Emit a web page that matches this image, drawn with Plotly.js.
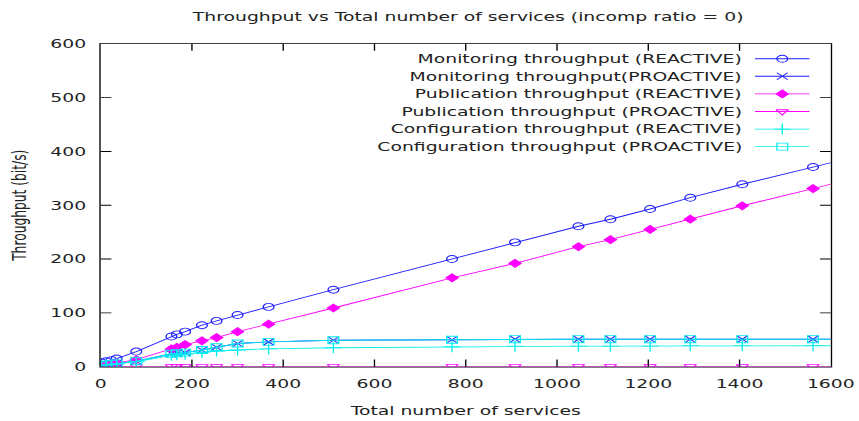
<!DOCTYPE html>
<html>
<head>
<meta charset="utf-8">
<script src="https://cdn.plot.ly/plotly-3.0.1.min.js"></script>
<style>
  html, body { margin: 0; padding: 0; background: #fff; overflow: hidden; }
  #wrap { width: 859px; height: 421px; overflow: hidden; position: relative; }
  #plot { width: 640px; height: 480px; transform: scale(1.3422, 0.8771); transform-origin: 0 0; }
</style>
</head>
<body>
<div id="wrap"><div id="plot"></div></div>
<script>
// ---- data ----
const services = [1, 12, 24, 35, 78, 155, 167, 185, 222, 254, 300, 368, 510, 770, 908, 1047, 1117, 1204, 1292, 1406, 1561, 1700];
const monitoringReactive  = [8, 10, 12, 15, 28, 56, 60, 65, 77, 85, 96, 111, 143, 200, 231, 261, 274, 293, 314, 339, 371, 400];
const monitoringProactive = [2, 4, 5, 6, 10, 24, 25, 26, 31, 36, 43, 46, 49, 50, 51, 51, 51, 51, 51, 51, 51, 51];
const publicationReactive = [2, 4, 5, 7, 13, 33, 36, 41, 48, 54, 65, 79, 109, 165, 192, 223, 236, 255, 274, 299, 331, 360];
const publicationProactive = [0.5, 0.5, 0.5, 0.5, 0.5, 0.5, 0.5, 0.5, 0.5, 0.5, 0.5, 0.5, 0.5, 0.5, 0.5, 0.5, 0.5, 0.5, 0.5, 0.5, 0.5, 0.5];
const configReactive  = [1, 3, 4, 5, 9, 21, 22, 23, 27, 29, 31, 33, 35, 37, 38, 38, 38, 38, 39, 39, 39, 39];
const configProactive = [2, 4, 5, 6, 10, 24, 25, 26, 31, 36, 43, 46, 49, 50, 51, 51, 51, 51, 51, 51, 51, 51];
const seriesNames = [
  "Monitoring throughput (REACTIVE)",
  "Monitoring throughput(PROACTIVE)",
  "Publication throughput (REACTIVE)",
  "Publication throughput (PROACTIVE)",
  "Configuration throughput (REACTIVE)",
  "Configuration throughput (PROACTIVE)"
];
const xTicks = [0, 200, 400, 600, 800, 1000, 1200, 1400, 1600];
const yTicks = [0, 100, 200, 300, 400, 500, 600];

// ---- styles ----
const seriesValues = [monitoringReactive, monitoringProactive, publicationReactive, publicationProactive, configReactive, configProactive];
const styles = [
  {color: '#1f1fff', symbol: 'circle-open', size: 8},
  {color: '#1f1fff', symbol: 'x-thin-open', size: 8},
  {color: '#ff00ff', symbol: 'diamond', size: 7},
  {color: '#ff00ff', symbol: 'triangle-down-open', size: 8},
  {color: '#00eeee', symbol: 'cross-thin-open', size: 9},
  {color: '#00eeee', symbol: 'square-open', size: 8}
];
const FONT = {family: 'DejaVu Sans', size: 14, color: '#222'};

const traces = [];
seriesValues.forEach((vals, i) => {
  const s = styles[i];
  traces.push({
    x: services, y: vals, name: seriesNames[i], type: 'scatter', mode: 'lines+markers',
    line: {color: s.color, width: 1},
    marker: {symbol: s.symbol, size: s.size, color: s.color, line: {color: s.color, width: 1}},
    xaxis: 'x', yaxis: 'y', showlegend: false, hoverinfo: 'skip'
  });
});

// custom legend (symbol to the right of right-aligned text, gnuplot style)
const legTop = 0.954, legStep = 0.0545, legTextX = 0.882;
const annotations = [];
seriesNames.forEach((name, i) => {
  const s = styles[i];
  const yy = legTop - i * legStep;
  traces.push({
    x: [0, 1], y: [yy, yy], type: 'scatter', mode: 'lines',
    line: {color: s.color, width: 1}, xaxis: 'x2', yaxis: 'y2', showlegend: false, hoverinfo: 'skip'
  });
  traces.push({
    x: [0.5], y: [yy], type: 'scatter', mode: 'markers',
    marker: {symbol: s.symbol, size: s.size, color: s.color, line: {color: s.color, width: 1}},
    xaxis: 'x2', yaxis: 'y2', showlegend: false, hoverinfo: 'skip', cliponaxis: false
  });
  annotations.push({
    text: name, xref: 'paper', yref: 'paper', x: legTextX, y: yy,
    xanchor: 'right', yanchor: 'middle', showarrow: false, font: FONT
  });
});

const axisCommon = {
  showgrid: false, zeroline: false, showline: true, linecolor: '#000', linewidth: 1,
  mirror: 'ticks', ticks: 'inside', ticklen: 8, tickcolor: '#000', tickwidth: 1,
  tickfont: FONT
};

const layout = {
  width: 640, height: 480,
  margin: {l: 75.3, r: 20.8, t: 50.2, b: 61.5},
  paper_bgcolor: '#fff', plot_bgcolor: 'rgba(0,0,0,0)',
  showlegend: false,
  font: FONT,
  title: {text: 'Throughput vs Total number of services (incomp ratio = 0)',
          x: 0.545, xref: 'container', xanchor: 'center', y: 0.96, yref: 'container', yanchor: 'middle',
          font: FONT},
  xaxis: Object.assign({}, axisCommon, {
    range: [0, 1600], tickvals: xTicks, ticktext: xTicks.map(String), ticklabelstandoff: 7,
    title: {text: 'Total number of services', standoff: 18, font: FONT},
    automargin: false
  }),
  yaxis: Object.assign({}, axisCommon, {
    range: [0, 600], tickvals: yTicks, ticktext: yTicks.map(String), ticklabelstandoff: 7,
    title: {text: 'Throughput (bit/s)', standoff: 14, font: FONT},
    automargin: false
  }),
  xaxis2: {domain: [0.896, 0.971], range: [0, 1], visible: false, anchor: 'y2', fixedrange: true},
  yaxis2: {domain: [0, 1], range: [0, 1], visible: false, anchor: 'x2', fixedrange: true},
  annotations: annotations
};

Plotly.newPlot('plot', traces, layout, {staticPlot: true, displayModeBar: false});
</script>
</body>
</html>
